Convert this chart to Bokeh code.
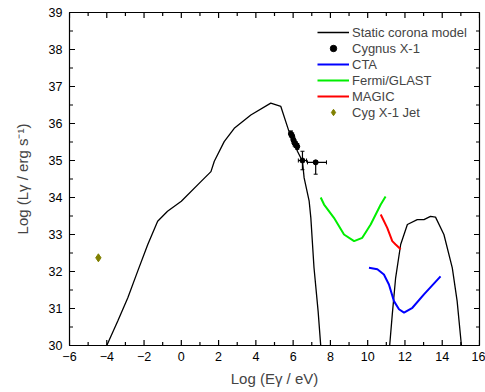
from bokeh.plotting import figure
from bokeh.models import (SingleIntervalTicker, Legend, LegendItem,
                          Whisker, ColumnDataSource, TeeHead, Range1d)
from bokeh.embed import file_html
from bokeh.resources import INLINE

# ---- data ----
model_lo_x = [-4.0, -3.41, -2.87, -2.34, -1.8, -1.27, -0.74, 0.0, 1.05, 1.59, 1.77, 2.3, 2.84,
              3.73, 4.8, 5.34, 5.78, 6.05, 6.23, 6.5, 6.59, 6.86, 6.95, 7.12, 7.34, 7.48]
model_lo_y = [30.0, 30.66, 31.29, 32.01, 32.73, 33.36, 33.63, 33.9, 34.43, 34.7, 34.98, 35.51, 35.87,
              36.23, 36.55, 36.46, 35.78, 35.52, 35.25, 34.98, 34.53, 33.9, 33.45, 32.1, 30.93, 30.0]
model_hi_x = [11.18, 11.32, 11.5, 11.77, 12.13, 12.66, 13.02, 13.37, 13.64, 14.09, 14.54, 14.8, 15.03]
model_hi_y = [30.0, 30.84, 31.83, 32.73, 33.27, 33.4, 33.4, 33.49, 33.47, 33.0, 32.1, 31.2, 30.0]

cta_x = [10.07, 10.52, 10.87, 11.14, 11.41, 11.68, 11.95, 12.4, 13.02, 13.91]
cta_y = [32.1, 32.06, 31.92, 31.65, 31.2, 30.98, 30.89, 31.02, 31.38, 31.87]

fermi_x = [7.48, 7.66, 8.19, 8.73, 9.27, 9.71, 10.16, 10.7, 10.96]
fermi_y = [34.0, 33.81, 33.45, 33.0, 32.82, 32.91, 33.27, 33.81, 34.03]

magic_x = [10.7, 11.05, 11.32, 11.5, 11.77]
magic_y = [33.54, 33.18, 32.82, 32.73, 32.6]

cyg_x = [5.88, 5.95, 6.02, 6.08, 6.14, 6.22, 6.5, 7.21]
cyg_y = [35.72, 35.66, 35.55, 35.47, 35.43, 35.38, 35.0, 34.95]
cyg_y_lo = [35.64, 35.58, 35.47, 35.39, 35.35, 35.3, 34.75, 34.63]
cyg_y_hi = [35.80, 35.74, 35.63, 35.55, 35.51, 35.46, 35.25, 35.0]
cyg_x_lo = [5.8, 5.87, 5.94, 6.0, 6.06, 6.14, 6.28, 6.77]
cyg_x_hi = [5.96, 6.03, 6.10, 6.16, 6.22, 6.30, 6.72, 7.79]

jet_x = [-4.45]
jet_y = [32.37]

x_major = list(range(-6, 17, 2))
x_minor = list(range(-5, 16, 2))
y_major = list(range(30, 40))
y_minor = [v + 0.5 for v in range(30, 39)]

FONT = "Liberation Sans"
XMIN, XMAX, YMIN, YMAX = -6, 16, 30, 39

W, H = 485, 390
BL, BR, BT, BB = 69, 6, 12, 45
FW, FH = W - BL - BR, H - BT - BB

p = figure(width=W, height=H, output_backend="svg", toolbar_location=None,
           x_range=Range1d(XMIN, XMAX), y_range=Range1d(YMIN, YMAX),
           min_border_left=BL, min_border_right=BR, min_border_top=BT, min_border_bottom=BB,
           x_axis_label="Log (Eγ / eV)", y_axis_label="Log (Lγ / erg s⁻¹)")
p.grid.visible = False
p.outline_line_color = "black"
p.outline_line_width = 1.2
p.background_fill_color = "white"

for ax, step in ((p.xaxis[0], 2), (p.yaxis[0], 1)):
    ax.ticker = SingleIntervalTicker(interval=step, num_minor_ticks=2)
    ax.major_tick_in = 0
    ax.major_tick_out = 0
    ax.minor_tick_in = 0
    ax.minor_tick_out = 0
    ax.major_tick_line_color = None
    ax.minor_tick_line_color = None
    ax.major_label_text_font = FONT
    ax.major_label_text_font_size = "12.5px"
    ax.major_label_text_color = "black"
    ax.axis_label_text_font = FONT
    ax.axis_label_text_font_size = "15px"
    ax.axis_label_text_font_style = "normal"
    ax.axis_line_color = "black"
p.xaxis[0].major_label_standoff = 6
p.xaxis[0].axis_label_standoff = 6
p.yaxis[0].major_label_standoff = 7
p.yaxis[0].axis_label_standoff = 15

# inward ticks on all four sides (lengths in px converted to data units)
ux = (XMAX - XMIN) / FW
uy = (YMAX - YMIN) / FH
MAJ, MIN = 5.5, 3.5
tick_xs, tick_ys = [], []
for xs, ln in ((x_major, MAJ), (x_minor, MIN)):
    for x in xs:
        tick_xs.append([x, x]); tick_ys.append([YMIN, YMIN + ln * uy])
        tick_xs.append([x, x]); tick_ys.append([YMAX, YMAX - ln * uy])
for ys, ln in ((y_major, MAJ), (y_minor, MIN)):
    for y in ys:
        tick_xs.append([XMIN, XMIN + ln * ux]); tick_ys.append([y, y])
        tick_xs.append([XMAX, XMAX - ln * ux]); tick_ys.append([y, y])
p.multi_line(xs=tick_xs, ys=tick_ys, line_color="black", line_width=1.2)

r_model = p.line(model_lo_x, model_lo_y, line_color="black", line_width=1.3)
p.line(model_hi_x, model_hi_y, line_color="black", line_width=1.3)
r_cta = p.line(cta_x, cta_y, line_color="#0000ff", line_width=2)
r_fermi = p.line(fermi_x, fermi_y, line_color="#00ee00", line_width=2)
r_magic = p.line(magic_x, magic_y, line_color="#ff0000", line_width=2)

src = ColumnDataSource(dict(x=cyg_x, y=cyg_y, ylo=cyg_y_lo, yhi=cyg_y_hi, xlo=cyg_x_lo, xhi=cyg_x_hi))
p.add_layout(Whisker(source=src, base="x", lower="ylo", upper="yhi", dimension="height",
                     line_color="black", line_width=1.2,
                     upper_head=TeeHead(size=4, line_color="black"),
                     lower_head=TeeHead(size=4, line_color="black")))
p.add_layout(Whisker(source=src, base="y", lower="xlo", upper="xhi", dimension="width",
                     line_color="black", line_width=1.2,
                     upper_head=TeeHead(size=4, line_color="black"),
                     lower_head=TeeHead(size=4, line_color="black")))
r_cyg = p.scatter("x", "y", source=src, size=5, color="black")
r_jet = p.scatter(jet_x, jet_y, marker="diamond", size=8, color="#808000")

legend = Legend(items=[
    LegendItem(label="Static corona model", renderers=[r_model]),
    LegendItem(label="Cygnus X-1", renderers=[r_cyg]),
    LegendItem(label="CTA", renderers=[r_cta]),
    LegendItem(label="Fermi/GLAST", renderers=[r_fermi]),
    LegendItem(label="MAGIC", renderers=[r_magic]),
    LegendItem(label="Cyg X-1 Jet", renderers=[r_jet]),
], location=(244, FH - 8 - 104))
legend.border_line_alpha = 0
legend.background_fill_alpha = 0
legend.margin = 0
legend.padding = 4
legend.spacing = 0
legend.label_height = 16
legend.glyph_height = 16
legend.glyph_width = 32
legend.label_standoff = 3
legend.label_text_font = FONT
legend.label_text_font_size = "13px"
p.add_layout(legend)

open("out.html", "w").write(file_html(p, INLINE))
